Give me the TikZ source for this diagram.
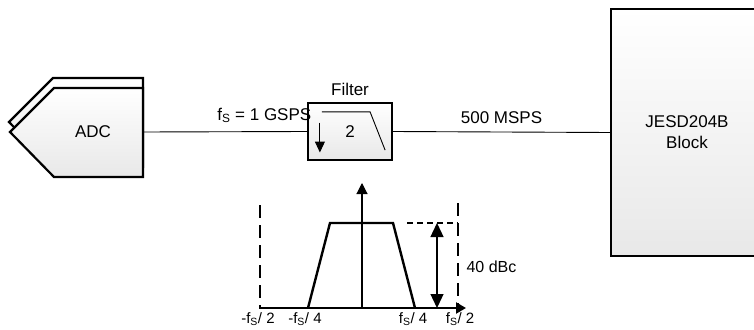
\documentclass[tikz,border=0pt]{standalone}
\usepackage{fontspec}
\setmainfont{Liberation Sans}
\usetikzlibrary{arrows.meta,positioning,calc}

\begin{document}
\begin{tikzpicture}[x=1pt,y=-1pt,every node/.style={font=\fontsize{17}{21}\selectfont},
 blk/.style={draw,line width=2.2pt,top color=white,bottom color=black!9,inner sep=0pt},
 ln/.style={line width=0.9pt},
 sm/.style={font=\fontsize{15}{17}\selectfont},
 dsh/.style={line width=2.6pt,dash pattern=on 13pt off 7pt}]
\useasboundingbox (0,0) rectangle (754,329);
\draw[blk] (143,78) -- (53,78) -- (9,122) -- (53,167) -- (143,167) -- cycle;
\draw[blk] (143,88) -- (54,88) -- (10,132) -- (54,177) -- (143,177) -- cycle;
\node (adc) at (93,132) {ADC};
\coordinate (adcout) at (143,132);
\node[blk,minimum width=84,minimum height=57] (filt) at (350,131.5) {2};
\node[above=3pt of filt] (filtlbl) {Filter};
\draw[line width=1pt,-{Triangle[length=11pt,width=10pt]}] ($(filt.west)+(13,-9)$) -- ($(filt.west)+(13,21)$);
\draw[line width=0.9pt] ($(filt.north west)+(15,10)$) -- ($(filt.north east)+(-23,10)$) -- ($(filt.south east)+(-8,-11)$);
\node[blk,minimum width=152,minimum height=247,align=center] (jesd) at (687,132.5) {JESD204B\\Block};
\draw[ln] (adcout) -- node[above=5pt,pos=0.74] (fs) {f\textsubscript{S} = 1 GSPS} (filt.west);
\draw[ln] (filt.east) -- node[above=5pt] (rate) {500 MSPS} (jesd.west);
\coordinate (o) at (362,308);
\coordinate (lo) at (259,308);
\coordinate (hi) at (466,308);
\draw[line width=2.2pt,-{Triangle[length=10pt,width=11pt]}] (lo) -- (hi);
\draw[line width=1.1pt,-{Triangle[length=11pt,width=11pt]}] (o) -- (362,183);
\draw[line width=2.4pt] (308,308) -- (330,223) -- (393,223) -- (415,308);
\draw[dsh] (260,205) -- (260,308);
\draw[dsh] (458,203) -- (458,308);
\draw[line width=1.1pt,dash pattern=on 6pt off 4pt] (407,223) -- (458,223);
\draw[line width=1.3pt,{Triangle[length=14pt,width=13pt]}-{Triangle[length=14pt,width=13pt]}] (437,223) -- (437,308);
\node[right,font=\fontsize{16}{18}\selectfont] (db) at (463,267) {40 dBc};
\node[sm,anchor=base] (m2) at (258,323) {-f\textsubscript{S}/ 2};
\node[sm,anchor=base] (m4) at (305,323) {-f\textsubscript{S}/ 4};
\node[sm,anchor=base] (p4) at (413,323) {f\textsubscript{S}/ 4};
\node[sm,anchor=base] (p2) at (460,323) {f\textsubscript{S}/ 2};
\end{tikzpicture}
\end{document}
